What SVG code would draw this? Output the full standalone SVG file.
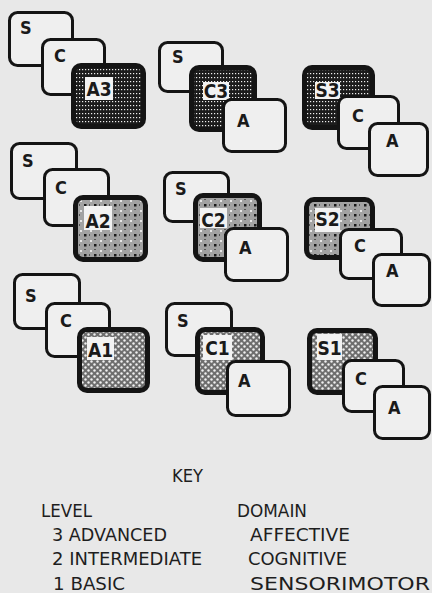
<svg xmlns="http://www.w3.org/2000/svg" width="432" height="593" viewBox="0 0 432 593">
<style>
.card{fill:#efefef;stroke:#141414;stroke-width:3}
.outer{fill:#141414}
.lab{fill:#f2f2f2}
.let{font-family:"DejaVu Sans Condensed","DejaVu Sans",sans-serif;font-weight:bold;font-size:18px;fill:#1a1a1a}
.lbl{font-family:"DejaVu Sans Condensed","DejaVu Sans",sans-serif;font-weight:bold;font-size:19px;fill:#1a1a1a;text-anchor:middle}
.key{font-family:"DejaVu Sans","Liberation Sans",sans-serif;font-size:17px;fill:#1e1e1e}
</style>
<defs>
<pattern id="p3" width="3" height="4" patternUnits="userSpaceOnUse">
<rect width="3" height="4" fill="#1c1c1c"/>
<rect x="1" y="1" width="1.2" height="1.2" fill="#f0f0f0"/>
</pattern>
<pattern id="p2" width="10" height="10" patternUnits="userSpaceOnUse">
<rect width="10" height="10" fill="#a2a2a2"/>
<rect x="0" y="0" width="2" height="2" fill="#e6e6e6"/>
<rect x="4" y="4" width="2.5" height="2.5" fill="#1a1a1a"/>
<rect x="9" y="4" width="1" height="2" fill="#555"/>
<rect x="4" y="9" width="2" height="1" fill="#555"/>
</pattern>
<pattern id="p1" width="6" height="6" patternUnits="userSpaceOnUse">
<rect width="6" height="6" fill="#6e6e6e"/>
<circle cx="1.5" cy="1.5" r="1.2" fill="#f0f0f0"/>
<circle cx="4.5" cy="4.5" r="1.2" fill="#f0f0f0"/>
</pattern>
</defs>
<rect width="432" height="593" fill="#e8e8e8"/>
<g id="connectors"/>

<g id="node-A3">
<rect class="card" x="9.5" y="12.5" width="63" height="53" rx="8"/><text class="let" x="20" y="34">S</text>
<rect class="card" x="42.5" y="39.5" width="62" height="55" rx="8"/><text class="let" x="54" y="62">C</text>
<rect class="outer" x="71" y="63" width="75" height="66" rx="10"/>
<rect x="76" y="68" width="65" height="56" rx="5" fill="url(#p3)"/>
<rect class="lab" x="85" y="77" width="28" height="23"/><text class="lbl" x="99" y="95.5">A3</text>
</g>

<g id="node-C3">
<rect class="card" x="159.5" y="42.5" width="63" height="49" rx="8"/><text class="let" x="172" y="63">S</text>
<rect class="outer" x="189" y="65" width="68" height="67" rx="10"/>
<rect x="194" y="70" width="58" height="57" rx="5" fill="url(#p3)"/>
<rect class="lab" x="203" y="82" width="26" height="18"/><text class="lbl" x="216" y="97.5">C3</text>
<rect class="card" x="223.5" y="99.5" width="62" height="52" rx="8"/><text class="let" x="237" y="127">A</text>
</g>

<g id="node-S3">
<rect class="outer" x="302" y="65" width="73" height="65" rx="10"/>
<rect x="307" y="70" width="63" height="55" rx="5" fill="url(#p3)"/>
<rect class="lab" x="315" y="82" width="25" height="17"/><text class="lbl" x="327.5" y="96.5">S3</text>
<rect class="card" x="338.5" y="96.5" width="60" height="52" rx="8"/><text class="let" x="352" y="122">C</text>
<rect class="card" x="369.5" y="123.5" width="58" height="52" rx="8"/><text class="let" x="386" y="147">A</text>
</g>

<g id="node-A2">
<rect class="card" x="11.5" y="143.5" width="65" height="55" rx="8"/><text class="let" x="22" y="167">S</text>
<rect class="card" x="44.5" y="169.5" width="64" height="56" rx="8"/><text class="let" x="55" y="194">C</text>
<rect class="outer" x="73" y="195" width="75" height="67" rx="10"/>
<rect x="78" y="200" width="65" height="57" rx="5" fill="url(#p2)"/>
<rect class="lab" x="84" y="206" width="28" height="24"/><text class="lbl" x="98" y="227.5">A2</text>
</g>

<g id="node-C2">
<rect class="card" x="164.5" y="172.5" width="64" height="49" rx="8"/><text class="let" x="175" y="195">S</text>
<rect class="outer" x="193" y="193" width="69" height="69" rx="10"/>
<rect x="198" y="198" width="59" height="59" rx="5" fill="url(#p2)"/>
<rect class="lab" x="200" y="208" width="27" height="20"/><text class="lbl" x="213.5" y="227">C2</text>
<rect class="card" x="225.5" y="228.5" width="62" height="52" rx="8"/><text class="let" x="239" y="254">A</text>
</g>

<g id="node-S2">
<rect class="outer" x="304" y="197" width="71" height="63" rx="10"/>
<rect x="309" y="202" width="61" height="53" rx="5" fill="url(#p2)"/>
<rect class="lab" x="315" y="208" width="25" height="24"/><text class="lbl" x="327.5" y="225.5">S2</text>
<rect class="card" x="340.5" y="229.5" width="61" height="49" rx="8"/><text class="let" x="354" y="252">C</text>
<rect class="card" x="373.5" y="254.5" width="56" height="51" rx="8"/><text class="let" x="386" y="277">A</text>
</g>

<g id="node-A1">
<rect class="card" x="14.5" y="274.5" width="65" height="54" rx="8"/><text class="let" x="25" y="302">S</text>
<rect class="card" x="46.5" y="303.5" width="63" height="53" rx="8"/><text class="let" x="60" y="327">C</text>
<rect class="outer" x="77" y="327" width="73" height="66" rx="10"/>
<rect x="82" y="332" width="63" height="56" rx="5" fill="url(#p1)"/>
<rect class="lab" x="87" y="337" width="27" height="23"/><text class="lbl" x="100.5" y="357">A1</text>
</g>

<g id="node-C1">
<rect class="card" x="166.5" y="303.5" width="65" height="52" rx="8"/><text class="let" x="177" y="327">S</text>
<rect class="outer" x="195" y="327" width="70" height="68" rx="10"/>
<rect x="200" y="332" width="60" height="58" rx="5" fill="url(#p1)"/>
<rect class="lab" x="203" y="335" width="29" height="25"/><text class="lbl" x="217.5" y="354.5">C1</text>
<rect class="card" x="227.5" y="361.5" width="62" height="54" rx="8"/><text class="let" x="238" y="387">A</text>
</g>

<g id="node-S1">
<rect class="outer" x="307" y="328" width="71" height="67" rx="10"/>
<rect x="312" y="333" width="61" height="57" rx="5" fill="url(#p1)"/>
<rect class="lab" x="317" y="334" width="25" height="26"/><text class="lbl" x="329.5" y="355">S1</text>
<rect class="card" x="343.5" y="360.5" width="60" height="51" rx="8"/><text class="let" x="355" y="385">C</text>
<rect class="card" x="374.5" y="386.5" width="55" height="52" rx="8"/><text class="let" x="388" y="414">A</text>
</g>

<g id="key">
<text class="key" x="172" y="482" textLength="31" lengthAdjust="spacingAndGlyphs">KEY</text>
<text class="key" x="41" y="517" textLength="51" lengthAdjust="spacingAndGlyphs">LEVEL</text>
<text class="key" x="52" y="541" textLength="115" lengthAdjust="spacingAndGlyphs">3 ADVANCED</text>
<text class="key" x="52" y="565" textLength="150" lengthAdjust="spacingAndGlyphs">2 INTERMEDIATE</text>
<text class="key" x="53" y="590" textLength="72" lengthAdjust="spacingAndGlyphs">1 BASIC</text>
<text class="key" x="237" y="517" textLength="70" lengthAdjust="spacingAndGlyphs">DOMAIN</text>
<text class="key" x="250" y="541" textLength="100" lengthAdjust="spacingAndGlyphs">AFFECTIVE</text>
<text class="key" x="248" y="565" textLength="99" lengthAdjust="spacingAndGlyphs">COGNITIVE</text>
<text class="key" x="250" y="590" textLength="180" lengthAdjust="spacingAndGlyphs">SENSORIMOTOR</text>
</g>
</svg>
